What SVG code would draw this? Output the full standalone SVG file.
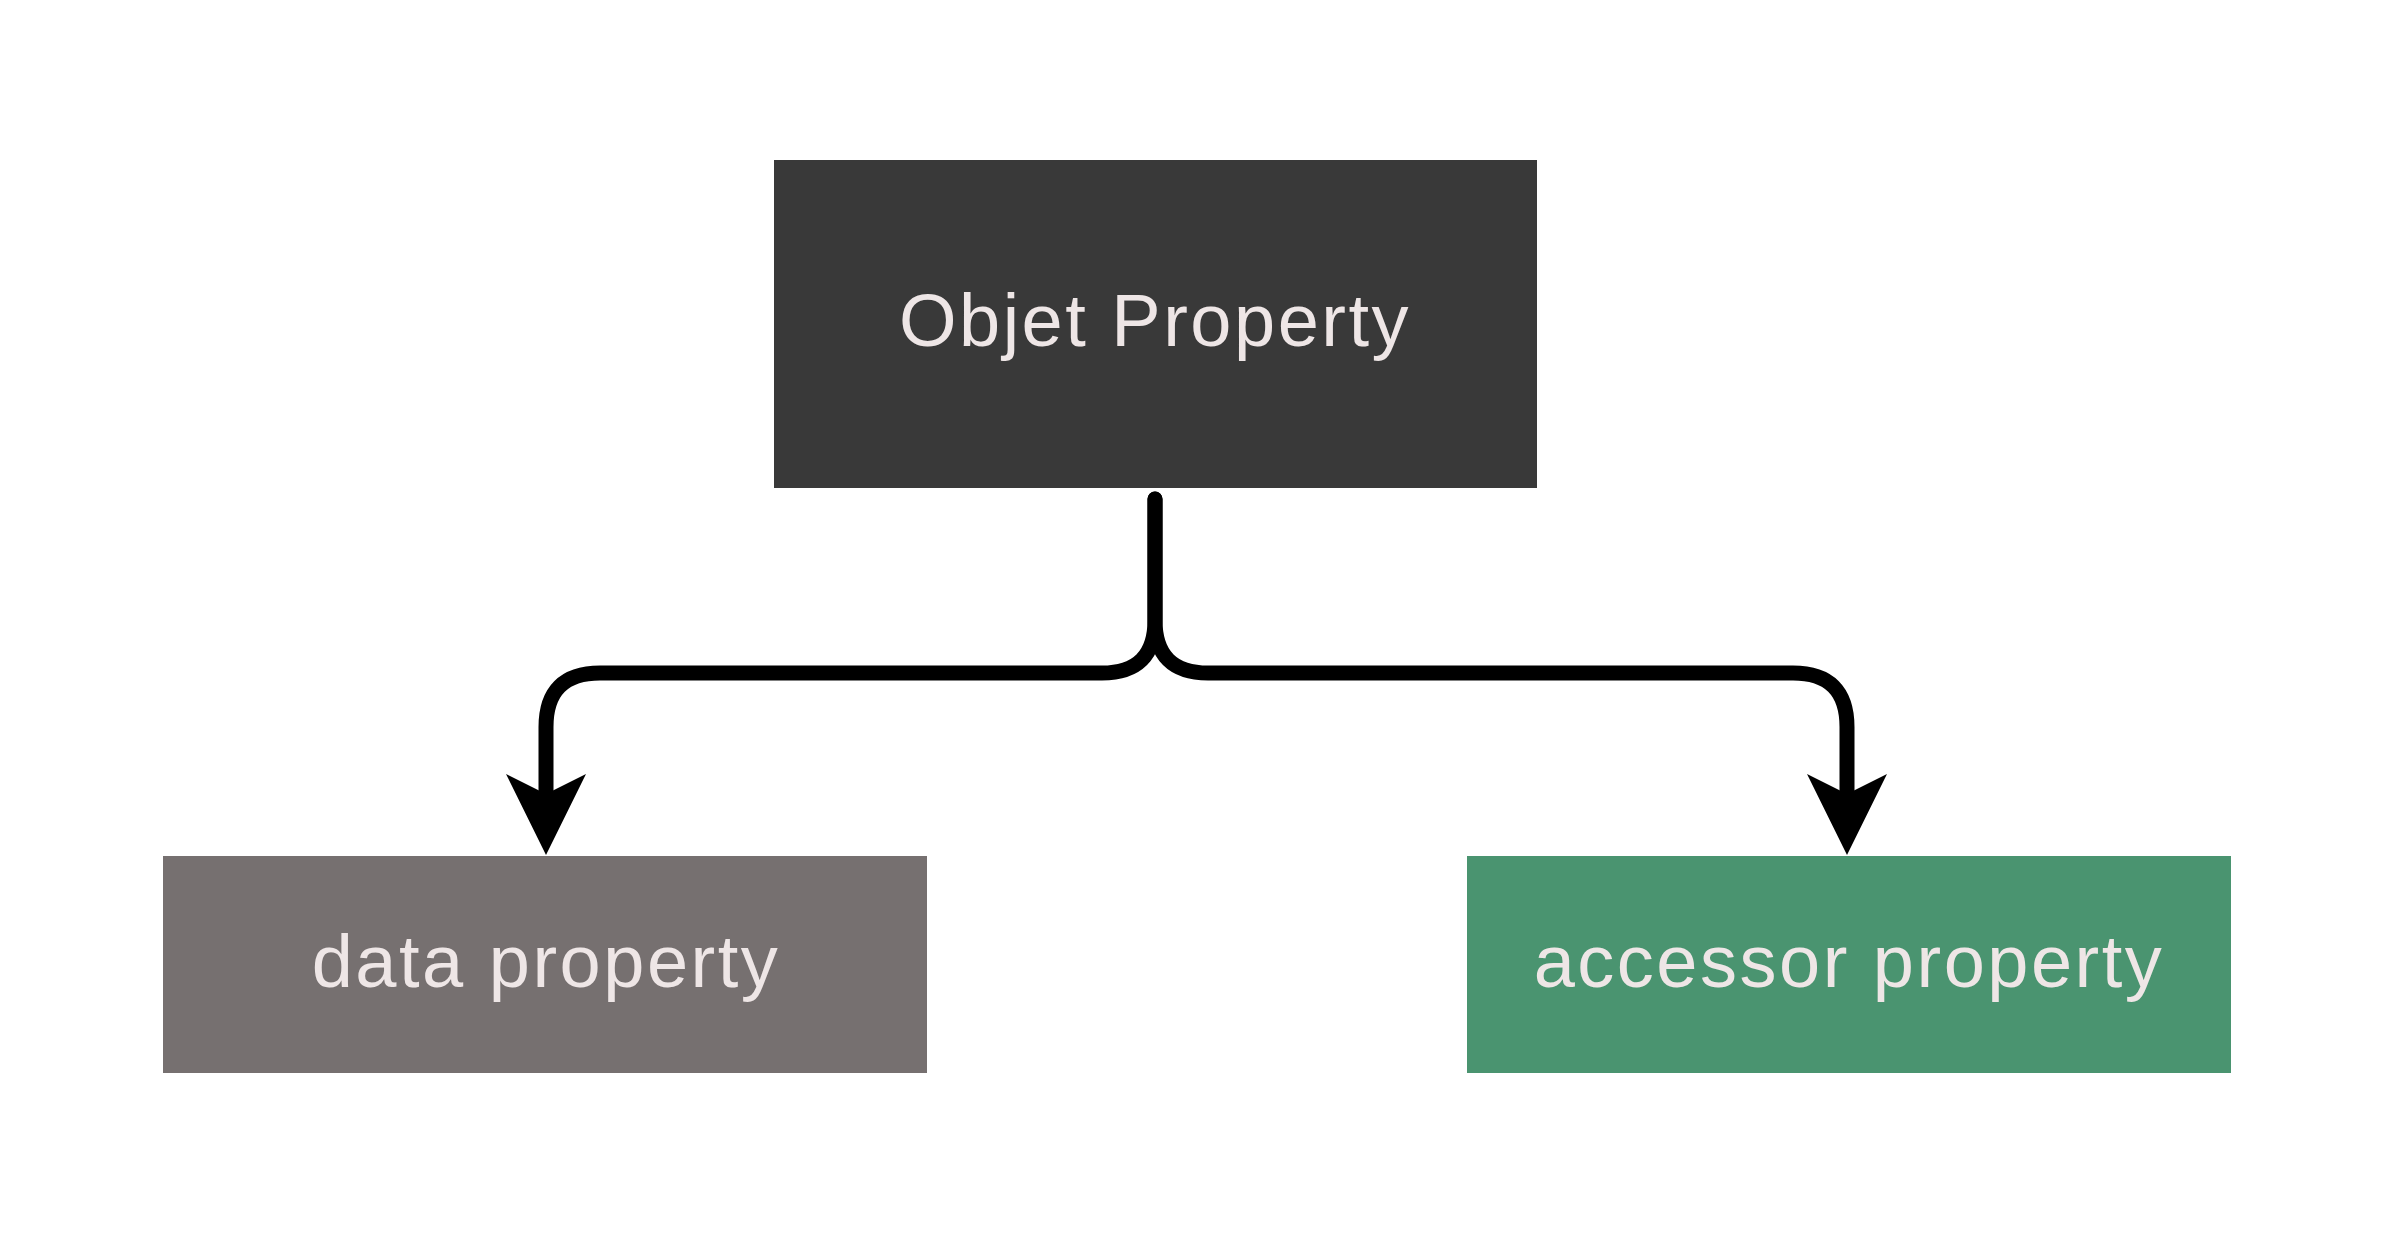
<svg xmlns="http://www.w3.org/2000/svg" width="2394" height="1243" viewBox="0 0 2394 1243">
<style>
.lbl{font-family:"Liberation Sans",Arial,sans-serif;font-size:74px;fill:#EEE6E6;text-anchor:middle;letter-spacing:2.5px}
.edge{fill:none;stroke:#000;stroke-width:15;stroke-linecap:round;stroke-linejoin:round}
</style>
<defs>
<marker id="arr" markerUnits="userSpaceOnUse" viewBox="-25 -45 90 90" refX="0" refY="0" markerWidth="90" markerHeight="90" orient="auto">
<path d="M61,0 L-20,-40 L0,0 L-20,40 Z" fill="#000"/>
</marker>
</defs>
<rect width="2394" height="1243" fill="#fff"/>
<g id="connectors">
<path class="edge" d="M1155,499 V620 Q1155,673 1102,673 H600 Q546,673 546,727 V794" marker-end="url(#arr)"/>
<path class="edge" d="M1155,499 V620 Q1155,673 1208,673 H1793 Q1847,673 1847,727 V794" marker-end="url(#arr)"/>
</g>
<g id="objet-property">
<rect x="774" y="160" width="763" height="328" fill="#393939"/>
<text class="lbl" x="1155" y="346">Objet Property</text>
</g>
<g id="data-property">
<rect x="163" y="856" width="764" height="217" fill="#767070"/>
<text class="lbl" x="546" y="987">data property</text>
</g>
<g id="accessor-property">
<rect x="1467" y="856" width="764" height="217" fill="#4A9470"/>
<text class="lbl" x="1849" y="987">accessor property</text>
</g>
</svg>
